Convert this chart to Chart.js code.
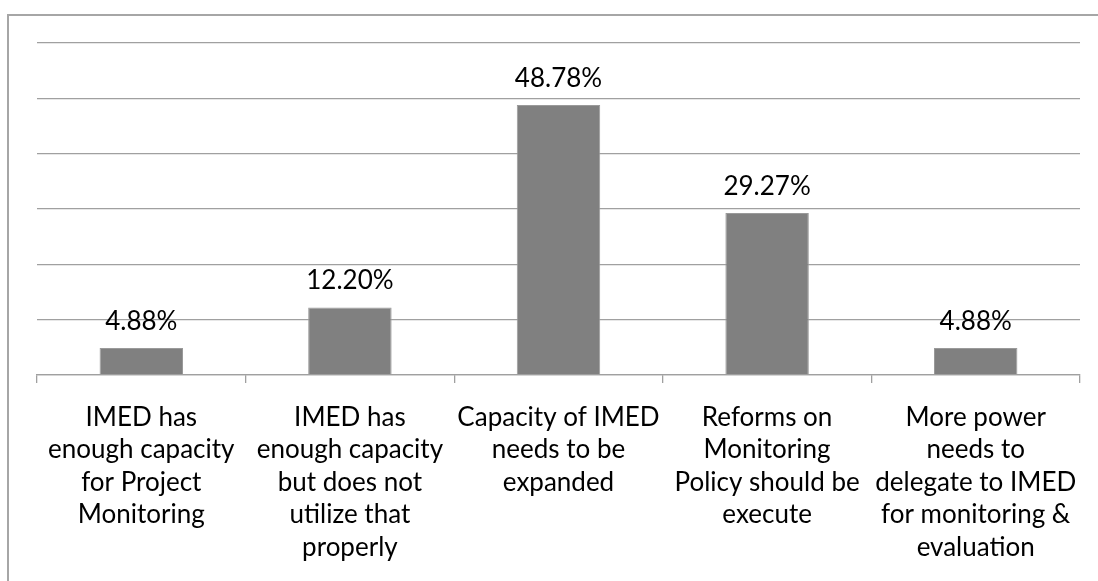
<!DOCTYPE html>
<html>
<head>
<meta charset="utf-8">
<script src="https://cdn.jsdelivr.net/npm/chart.js@4/dist/chart.umd.min.js"></script>
<style>
  html, body { margin: 0; padding: 0; background: #fff; }
  #wrap { position: relative; width: 1098px; height: 581px; overflow: hidden; }
  #frame { position: absolute; left: 7px; top: 14px; width: 1200px; height: 700px;
           border-left: 2px solid #a6a6a6; border-top: 2px solid #a6a6a6; box-sizing: border-box; }
  canvas { position: absolute; left: 0; top: 0; }
</style>
</head>
<body>
<div id="wrap">
  <div id="frame"></div>
  <canvas id="chart" width="1098" height="581"></canvas>
</div>
<script>
  // categories (wrapped the way the original shows them)
  const categories = [
    ['IMED has', 'enough capacity', 'for Project', 'Monitoring'],
    ['IMED has', 'enough capacity', 'but does not', 'utilize that', 'properly'],
    ['Capacity of IMED', 'needs to be', 'expanded'],
    ['Reforms on', 'Monitoring', 'Policy should be', 'execute'],
    ['More power', 'needs to', 'delegate to IMED', 'for monitoring &', 'evaluation']
  ];
  const shares = [4.88, 12.20, 48.78, 29.27, 4.88];
  const yTicks = [0, 10, 20, 30, 40, 50, 60];

  const FONT = 'Lato';

  // value labels above the bars
  const valueLabels = {
    id: 'valueLabels',
    afterDatasetsDraw(chart) {
      const ctx = chart.ctx;
      const meta = chart.getDatasetMeta(0);
      ctx.save();
      ctx.font = '26px ' + FONT;
      ctx.fillStyle = '#000';
      ctx.textAlign = 'center';
      ctx.textBaseline = 'alphabetic';
      meta.data.forEach((bar, i) => {
        ctx.fillText(shares[i].toFixed(2) + '%', bar.x, bar.y - 18);
      });
      ctx.restore();
    }
  };

  new Chart(document.getElementById('chart'), {
    type: 'bar',
    data: {
      labels: categories,
      datasets: [{
        data: shares,
        backgroundColor: '#808080',
        borderColor: '#9a9a9a',
        borderWidth: 1,
        categoryPercentage: 1,
        barPercentage: 0.4
      }]
    },
    options: {
      responsive: false,
      animation: false,
      layout: { padding: { left: 37, right: 18, top: 43, bottom: 0 } },
      plugins: { legend: { display: false }, tooltip: { enabled: false } },
      scales: {
        x: {
          grid: { drawOnChartArea: false, tickLength: 8, color: '#a0a0a0', lineWidth: 1.3 },
          border: { color: '#a0a0a0', width: 1.3 },
          ticks: {
            color: '#000',
            font: { family: FONT, size: 26, lineHeight: 1.25 },
            autoSkip: false, maxRotation: 0, minRotation: 0, padding: 18
          },
          afterFit(scale) { scale.height = 206; }
        },
        y: {
          min: 0, max: 60,
          afterBuildTicks(scale) { scale.ticks = yTicks.map(v => ({ value: v })); },
          ticks: { display: false },
          grid: { color: '#a0a0a0', lineWidth: 1.3, drawTicks: false },
          border: { display: false },
          afterFit(scale) { scale.width = 0; }
        }
      }
    },
    plugins: [valueLabels]
  });
</script>
</body>
</html>
